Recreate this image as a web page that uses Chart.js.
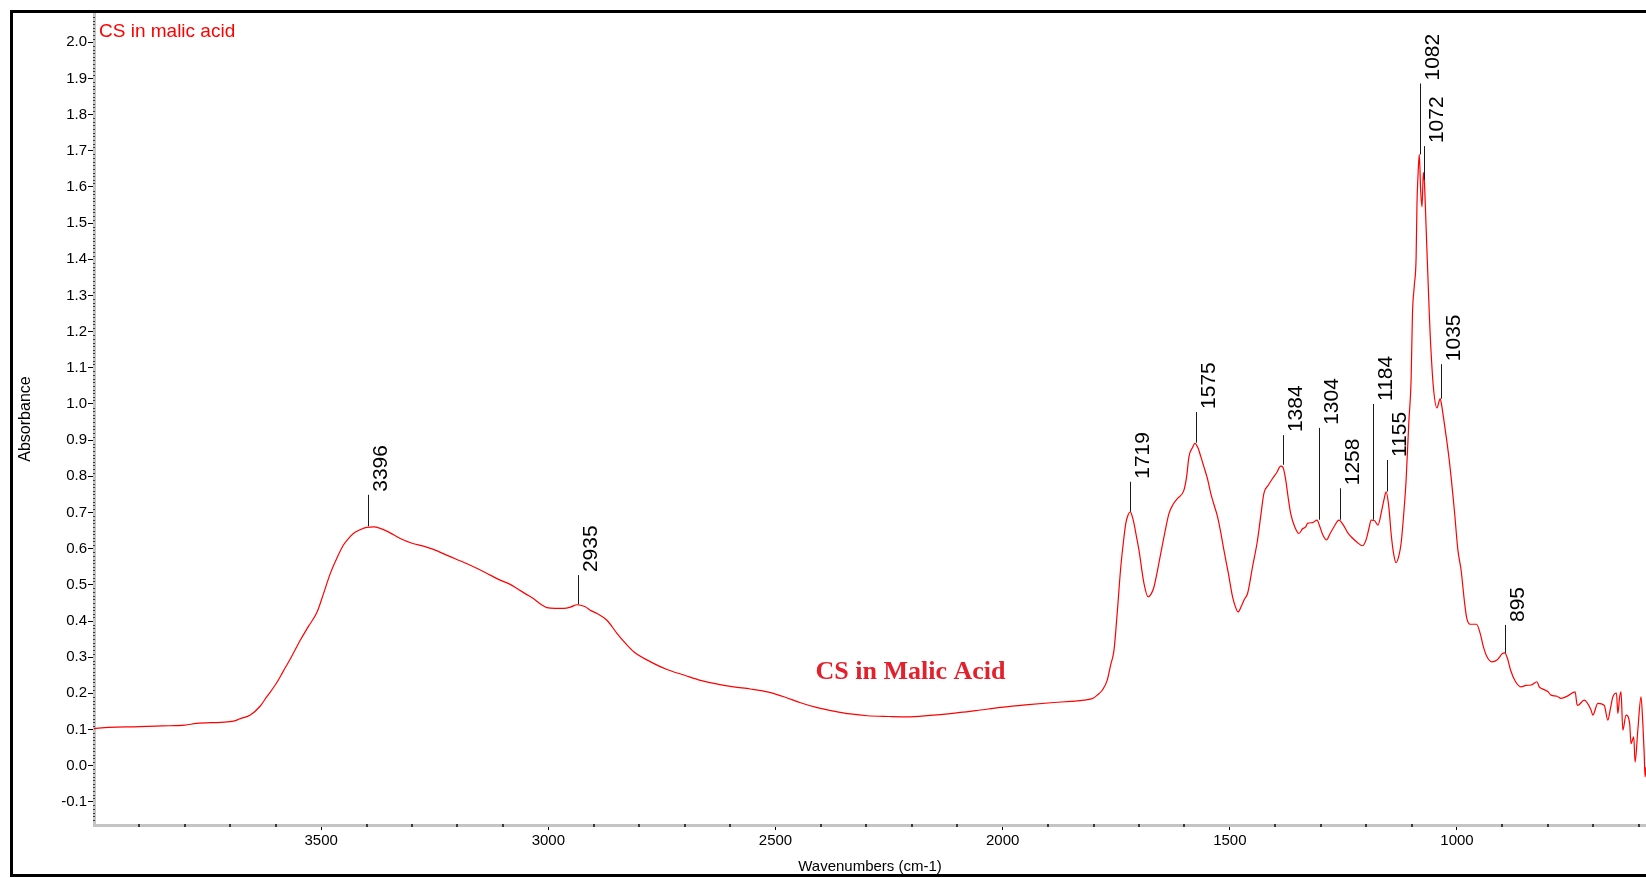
<!DOCTYPE html>
<html>
<head>
<meta charset="utf-8">
<title>CS in Malic Acid - FTIR</title>
<script src="https://cdn.jsdelivr.net/npm/chart.js@4.4.1/dist/chart.umd.min.js"></script>
<style>
  html, body { margin: 0; padding: 0; background: #ffffff; overflow: hidden; }
  #wrap { position: relative; width: 1646px; height: 878px; }
  canvas { display: block; }
</style>
</head>
<body>
<div id="wrap"><canvas id="chart" width="1646" height="878"></canvas></div>
<script>
// ---------------- DATA ----------------
const wavenumbers = [
  4000, 3996, 3900, 3850, 3800, 3774, 3720, 3693, 3678, 3656, 3634, 3620, 3600, 3583, 3565, 3546, 3528, 3509, 3495, 3480,
  3465, 3451, 3440, 3429, 3415, 3400, 3385, 3370, 3350, 3326, 3300, 3275, 3253, 3220, 3180, 3140, 3106, 3085, 3069, 3050,
  3033, 3015, 3003, 2985, 2966, 2950, 2937, 2920, 2905, 2893, 2871, 2849, 2830, 2812, 2775, 2739, 2700, 2665, 2630, 2592,
  2555, 2518, 2480, 2445, 2410, 2372, 2335, 2298, 2250, 2210, 2160, 2115, 2060, 2004, 1950, 1894, 1850, 1821, 1800, 1792,
  1780, 1770, 1762, 1755, 1748, 1740, 1735, 1729, 1724, 1719, 1715, 1711, 1705, 1700, 1689, 1680, 1673, 1667, 1652, 1643,
  1634, 1625, 1615, 1601, 1595, 1590, 1582, 1577, 1570, 1564, 1557, 1549, 1542, 1535, 1527, 1520, 1513, 1503, 1494, 1487,
  1482, 1475, 1468, 1461, 1450, 1439, 1432, 1425, 1415, 1406, 1397, 1388, 1383, 1377, 1372, 1366, 1357, 1348, 1340, 1333,
  1329, 1318, 1308, 1303, 1296, 1287, 1280, 1270, 1260, 1250, 1241, 1233, 1220, 1208, 1200, 1194, 1189, 1182, 1174, 1165,
  1160, 1156, 1150, 1145, 1140, 1134, 1128, 1123, 1117, 1112, 1106, 1101, 1098, 1094, 1090, 1088, 1086, 1083, 1080, 1077,
  1074, 1072, 1069, 1067, 1063, 1061, 1059, 1052, 1044, 1040, 1037, 1034, 1030, 1025, 1017, 1006, 998, 991, 984, 979,
  971, 957, 949, 942, 934, 923, 912, 900, 895, 889, 882, 871, 859, 848, 837, 824, 819, 815, 800, 793,
  780, 771, 756, 740, 736, 734, 720, 705, 701, 690, 676, 668, 662, 657, 649, 646, 642, 639, 635, 628,
  620, 617, 611, 608, 602, 595, 591, 588, 586, 584
];
const absorbance = [
  0.102, 0.103, 0.108, 0.110, 0.112, 0.117, 0.120, 0.123, 0.130, 0.140, 0.165, 0.190, 0.225, 0.262, 0.302, 0.347, 0.385, 0.425, 0.475, 0.531,
  0.575, 0.610, 0.628, 0.642, 0.652, 0.659, 0.660, 0.656, 0.645, 0.628, 0.615, 0.607, 0.598, 0.580, 0.559, 0.535, 0.513, 0.502, 0.490, 0.475,
  0.462, 0.445, 0.437, 0.435, 0.435, 0.439, 0.445, 0.440, 0.428, 0.421, 0.402, 0.366, 0.338, 0.315, 0.287, 0.266, 0.250, 0.236, 0.226, 0.218,
  0.212, 0.204, 0.190, 0.174, 0.161, 0.151, 0.143, 0.138, 0.136, 0.135, 0.139, 0.144, 0.152, 0.161, 0.168, 0.174, 0.178, 0.181, 0.187, 0.195,
  0.210, 0.236, 0.280, 0.319, 0.420, 0.550, 0.610, 0.670, 0.693, 0.702, 0.690, 0.670, 0.630, 0.596, 0.504, 0.467, 0.475, 0.494, 0.587, 0.645,
  0.697, 0.722, 0.739, 0.762, 0.800, 0.854, 0.880, 0.891, 0.878, 0.855, 0.826, 0.792, 0.753, 0.722, 0.688, 0.645, 0.596, 0.530, 0.467, 0.437,
  0.425, 0.440, 0.460, 0.476, 0.550, 0.624, 0.690, 0.753, 0.776, 0.794, 0.810, 0.828, 0.825, 0.790, 0.745, 0.697, 0.660, 0.642, 0.655, 0.660,
  0.670, 0.672, 0.679, 0.665, 0.640, 0.624, 0.640, 0.662, 0.679, 0.665, 0.645, 0.633, 0.618, 0.608, 0.625, 0.655, 0.679, 0.678, 0.665, 0.710,
  0.740, 0.757, 0.715, 0.642, 0.590, 0.561, 0.580, 0.615, 0.700, 0.790, 0.950, 1.067, 1.250, 1.327, 1.404, 1.558, 1.626, 1.690, 1.590, 1.545,
  1.640, 1.620, 1.525, 1.453, 1.318, 1.250, 1.191, 1.047, 0.989, 1.005, 1.015, 0.998, 0.965, 0.921, 0.844, 0.709, 0.596, 0.541, 0.458, 0.411,
  0.391, 0.391, 0.366, 0.329, 0.301, 0.287, 0.292, 0.310, 0.312, 0.297, 0.264, 0.232, 0.218, 0.222, 0.223, 0.232, 0.218, 0.214, 0.205, 0.195,
  0.192, 0.186, 0.193, 0.204, 0.170, 0.167, 0.181, 0.154, 0.140, 0.172, 0.167, 0.126, 0.160, 0.190, 0.201, 0.144, 0.190, 0.204, 0.098, 0.140,
  0.117, 0.061, 0.080, 0.010, 0.098, 0.190, 0.117, 0.034, -0.031, -0.004
];
const xTickValues = [3500, 3000, 2500, 2000, 1500, 1000];
const yTickValues = [-0.1, 0.0, 0.1, 0.2, 0.3, 0.4, 0.5, 0.6, 0.7, 0.8, 0.9, 1.0, 1.1, 1.2, 1.3, 1.4, 1.5, 1.6, 1.7, 1.8, 1.9, 2.0];

// peak labels: wavenumber, label, top of marker line, bottom of marker line (absorbance units)
const peakWavenumbers = [3396, 2935, 1719, 1575, 1384, 1304, 1258, 1184, 1155, 1082, 1072, 1035, 895];
const peakLabels      = ['3396', '2935', '1719', '1575', '1384', '1304', '1258', '1184', '1155', '1082', '1072', '1035', '895'];
const peakLineTop     = [0.749, 0.527, 0.785, 0.978, 0.914, 0.934, 0.767, 1.000, 0.845, 1.886, 1.713, 1.110, 0.389];
const peakLineBottom  = [0.662, 0.446, 0.702, 0.893, 0.832, 0.680, 0.680, 0.680, 0.758, 1.690, 1.620, 1.015, 0.312];

const cornerTitle = 'CS in malic acid';
const sampleLabel = 'CS in Malic Acid';
const xAxisTitle = 'Wavenumbers (cm-1)';
const yAxisTitle = 'Absorbance';

// ---------------- CHART ----------------
const SANS = '"Liberation Sans", Arial, sans-serif';
const points = wavenumbers.map((w, i) => ({ x: w, y: absorbance[i] }));

const decorPlugin = {
  id: 'decor',
  afterDatasetsDraw(chart) {
    const { ctx, chartArea, scales: { x, y } } = chart;
    ctx.save();
    // peak markers
    ctx.strokeStyle = '#1a1a1a';
    ctx.lineWidth = 1;
    ctx.fillStyle = '#000000';
    ctx.font = '21px ' + SANS;
    ctx.textAlign = 'left';
    ctx.textBaseline = 'alphabetic';
    peakWavenumbers.forEach((w, i) => {
      const px = Math.round(x.getPixelForValue(w)) + 0.5;
      const yT = y.getPixelForValue(peakLineTop[i]);
      const yB = y.getPixelForValue(peakLineBottom[i]);
      ctx.beginPath();
      ctx.moveTo(px, yB);
      ctx.lineTo(px, yT);
      ctx.stroke();
      ctx.save();
      ctx.translate(px + 3.5, yT - 3);
      ctx.rotate(-Math.PI / 2);
      ctx.fillText(peakLabels[i], 0, 15);
      ctx.restore();
    });
    // sample label
    ctx.fillStyle = '#e3202b';
    ctx.font = 'bold 26px "Liberation Serif", "Times New Roman", serif';
    ctx.fillText(sampleLabel, x.getPixelForValue(2412), y.getPixelForValue(0.241));
    ctx.restore();
  },
  afterDraw(chart) {
    const { ctx, chartArea, scales: { x, y } } = chart;
    ctx.save();
    // minor ticks on y axis (every 0.01)
    ctx.fillStyle = '#3a3a3a';
    for (let k = -16; k <= 208; k++) {
      if (k % 10 === 0) continue;
      const py = Math.round(y.getPixelForValue(k / 100));
      if (py < chartArea.top + 1 || py > chartArea.bottom - 2) continue;
      ctx.fillRect(chartArea.left - 1, py, 2, 1);
    }
    // minor ticks on x axis (every 100)
    for (let w = 600; w <= 3900; w += 100) {
      if (w % 500 === 0) continue;
      const px = Math.round(x.getPixelForValue(w));
      ctx.fillRect(px - 1, chartArea.bottom - 1, 2, 3);
    }
    // corner title
    ctx.fillStyle = '#ff0000';
    ctx.font = '19px ' + SANS;
    ctx.textAlign = 'left';
    ctx.textBaseline = 'alphabetic';
    ctx.fillText(cornerTitle, 99, 37);
    // outer frame
    ctx.strokeStyle = '#000000';
    ctx.lineWidth = 3;
    ctx.strokeRect(11.5, 11.5, 1700, 864);
    ctx.restore();
  }
};

new Chart(document.getElementById('chart'), {
  type: 'line',
  data: {
    datasets: [{
      data: points,
      borderColor: '#ff0000',
      borderWidth: 1.2,
      pointRadius: 0,
      fill: false,
      cubicInterpolationMode: 'monotone'
    }]
  },
  options: {
    responsive: false,
    animation: false,
    devicePixelRatio: 1,
    parsing: false,
    layout: { padding: { top: 13, right: 0, bottom: 0, left: 0 } },
    plugins: { legend: { display: false }, tooltip: { enabled: false }, title: { display: false } },
    scales: {
      x: {
        type: 'linear',
        reverse: true,
        min: 584,
        max: 4000,
        position: 'bottom',
        afterBuildTicks: s => { s.ticks = xTickValues.map(v => ({ value: v })); },
        afterFit: s => { s.height = 53; },
        grid: { display: true, drawOnChartArea: false, drawTicks: true, tickLength: 5, tickColor: '#000', tickWidth: 1 },
        border: { display: true, color: '#c4c4c4', width: 3 },
        ticks: { color: '#000', font: { family: SANS, size: 15 }, padding: 2, maxRotation: 0, autoSkip: false, callback: v => String(v) },
        title: { display: true, text: xAxisTitle, color: '#000', font: { family: SANS, size: 15 }, padding: { top: 0, bottom: 2 } }
      },
      y: {
        type: 'linear',
        min: -0.164,
        max: 2.081,
        afterBuildTicks: s => { s.ticks = yTickValues.map(v => ({ value: v })); },
        afterFit: s => { s.width = 94; },
        grid: { display: true, drawOnChartArea: false, drawTicks: true, tickLength: 6, tickColor: '#000', tickWidth: 1 },
        border: { display: true, color: '#c4c4c4', width: 3 },
        ticks: { color: '#000', font: { family: SANS, size: 15 }, padding: 1, autoSkip: false, callback: v => v.toFixed(1) },
        title: { display: true, text: yAxisTitle, color: '#000', font: { family: SANS, size: 16 }, padding: { top: 16, bottom: 0 } }
      }
    }
  },
  plugins: [decorPlugin]
});
</script>
</body>
</html>
